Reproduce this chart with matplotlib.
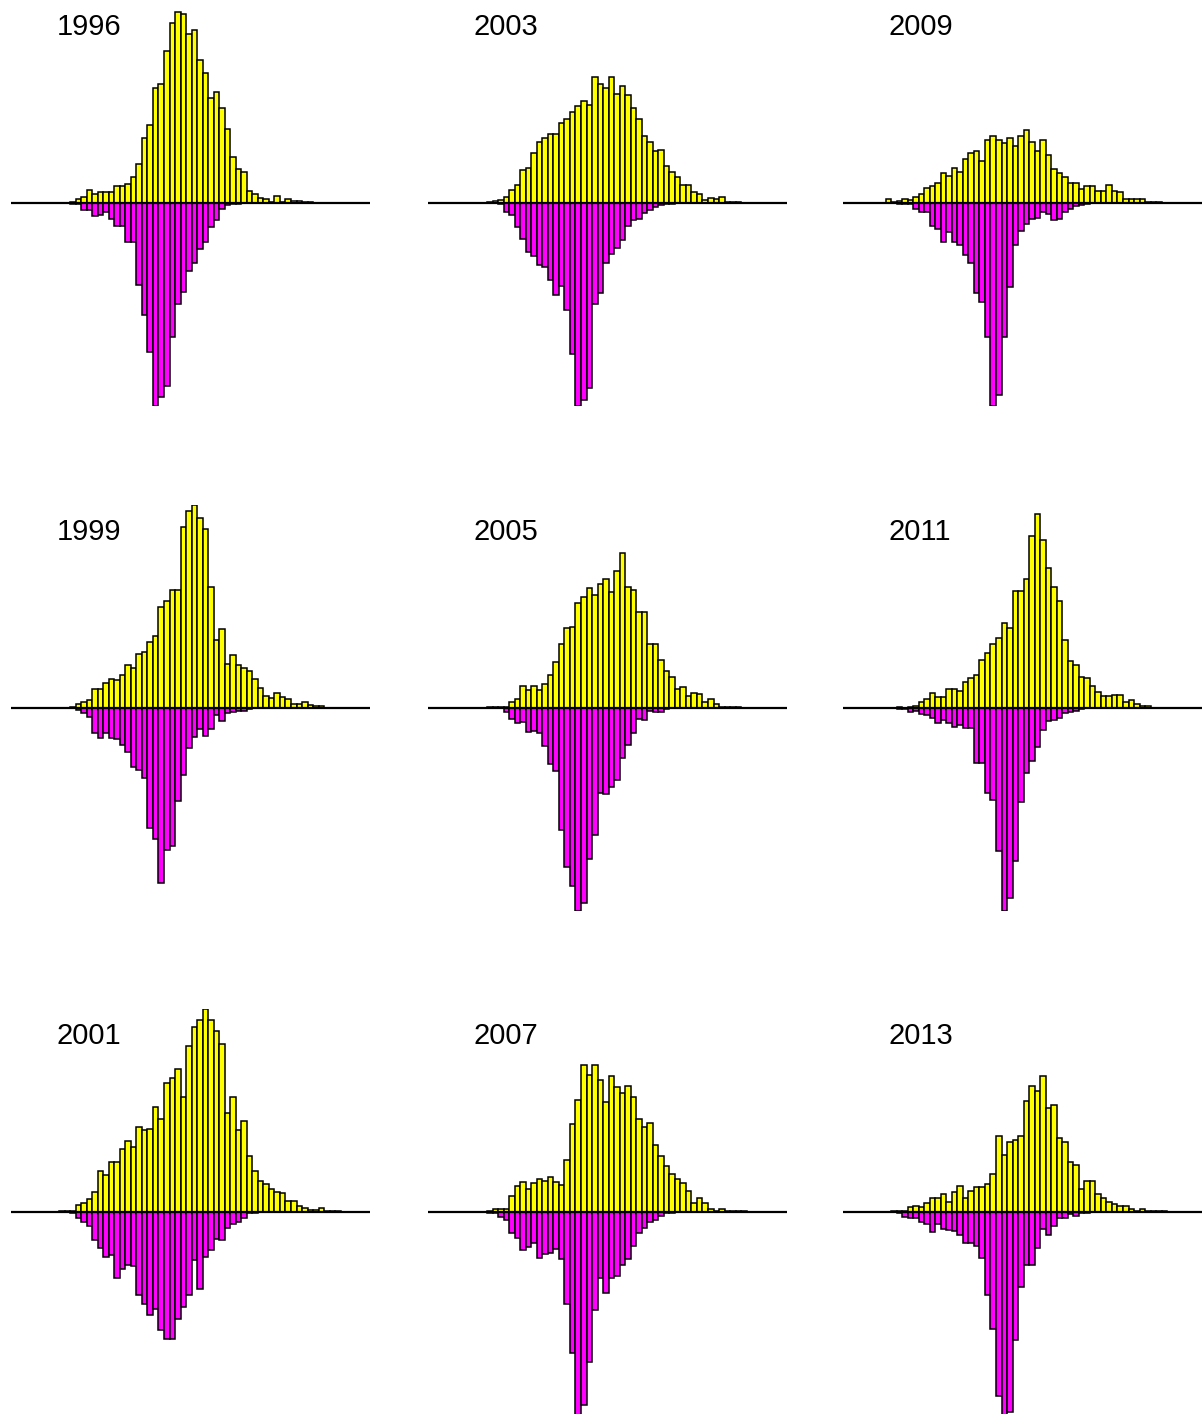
import numpy as np
import matplotlib.pyplot as plt
from matplotlib import rcParams

N_BINS = 64

# Year panels, laid out row by row
years = [1996, 2003, 2009,
         1999, 2005, 2011,
         2001, 2007, 2013]

# First bin index of each year's series
first_bin = {1996: 10, 2003: 10, 2009: 7, 1999: 10, 2005: 10,
             2011: 9, 2001: 8, 2007: 10, 2013: 8}

# Upper (yellow) and lower (magenta) counts per bin
up_1996 = [1, 4, 5.7, 12.7, 9, 11, 11, 11, 16.7, 16.7, 19, 26, 39, 65, 77.7,
           114.3, 118.3, 151.7, 179.3, 190.7, 188, 168.3, 172.3, 142.3, 130, 105,
           111, 95, 74, 46, 34.3, 31.3, 12.3, 9, 5, 4, 0.5, 7.3, 0.5, 4, 1.5, 1.5,
           1, 0.5]
down_1996 = [1, 1, 7.3, 7.3, 13.3, 11.7, 9, 15.7, 23, 23, 39, 39, 82, 111.3,
             148.3, 202.3, 193.3, 182.3, 134, 100.7, 88.3, 67.3, 59.7, 46.3, 39,
             24.3, 16.7, 5.7, 1.7, 1, 0.5]

up_2003 = [1, 1.5, 3.3, 5.7, 12.7, 18.3, 33.3, 35, 50, 60.7, 64.7, 68.3, 68.3,
           79.7, 83.3, 90.7, 96.3, 102, 98, 126, 118.3, 114.3, 126, 109, 116.7,
           107.3, 95, 83.3, 66.7, 60.7, 51.7, 53.3, 37.3, 31, 25.7, 18.3, 18.3,
           10.7, 9, 3.3, 5.3, 3.7, 5.7, 0.5, 0.5, 0.5]
down_2003 = [0, 0.3, 0.5, 9, 11.7, 24.3, 35.7, 49, 53.3, 61.7, 63.3, 76.7, 91.3,
             82.3, 106.3, 150, 202.3, 196.7, 184.3, 100.7, 89.7, 60, 50.7, 45,
             37.3, 22.7, 17.3, 15.7, 10, 7.3, 4, 2.3, 1.3, 0.5]

up_2009 = [3.7, 0.5, 1.5, 3.7, 3.3, 5.7, 9, 15, 16.7, 20, 30, 27.3, 35, 31.3,
           44.3, 50, 51.7, 42.3, 62.3, 66.7, 62.7, 59.3, 65, 56.7, 66.7, 72.3, 61,
           51.7, 62.3, 47.7, 34.3, 30, 25.7, 20, 20, 14.3, 16.7, 16.7, 12.3, 12.3,
           18.3, 11.7, 10.7, 4.3, 4.3, 4.3, 4.3, 1, 1, 1]
down_2009 = [0.3, 0.3, 0.5, 0.5, 0.5, 6, 9, 9, 22.7, 26, 39, 29.3, 39, 41.7,
             52.3, 60, 89.3, 99, 134, 202.3, 191, 134, 83.3, 41.7, 28.3, 20.7,
             15.7, 15, 9.3, 10.7, 16.7, 15.7, 9, 5.7, 3.3, 1.7, 0.5]

up_1999 = [1, 4, 5.7, 7.7, 18.7, 18.7, 24.7, 29.3, 27.7, 33.3, 43, 40.3, 54, 56,
           66.3, 72.3, 102, 107.7, 118.7, 118.7, 182.3, 198, 204, 190.7, 179.7,
           122, 68.7, 79.7, 44, 53.7, 43, 40.3, 37, 29.3, 19.7, 12.3, 9.7, 15.3,
           10.7, 9, 4, 4, 6.3, 3.3, 2, 2, 0.5, 0.5, 0.5]
down_1999 = [0.5, 2, 5.3, 9.3, 25.3, 29.7, 25.3, 29.7, 31, 37, 44.3, 59.3, 62.7,
             70.3, 121, 132, 176, 142.7, 138.7, 93, 67, 40.3, 29.3, 20.7, 28, 20.7,
             7, 12.7, 5.3, 4, 3.3, 2.7, 1.3, 0.5]

up_2005 = [1, 1, 1, 1.3, 5.7, 9, 22, 18, 22, 18, 24, 33.7, 46.3, 64.7, 80.3,
           81.3, 105.7, 111.7, 120.3, 113.7, 124.7, 129.7, 117, 137.7, 155.7, 122,
           119, 96.3, 96.3, 64.7, 64.7, 48, 37, 31.3, 18.7, 20.7, 12.3, 15.3, 13.7,
           5.7, 9.3, 3.7, 1, 1, 1, 1]
down_2005 = [0.5, 0.5, 0.5, 4.3, 11.3, 15.3, 13.7, 23.7, 22.7, 25.3, 38.7, 56,
             63, 122.7, 159.7, 178.7, 204.3, 196.3, 152, 127.7, 85.3, 87, 79.3, 72,
             50.3, 37.7, 25.3, 11, 12, 3, 3.7, 3.7, 1.3, 0.5]

up_2011 = [1, 0.5, 1.3, 2.3, 6, 9, 15.3, 10.7, 10.7, 18.7, 18.7, 16.7, 26.3,
           29.7, 33, 48, 55.7, 64.7, 70.3, 85.3, 80.3, 117.3, 117.3, 129.7, 173,
           195.3, 169, 140.7, 122, 108, 68, 47.3, 43.7, 31.3, 29.7, 22.3, 16.3,
           12.3, 12.3, 13, 13, 5.7, 8, 3.7, 2, 2, 0.5, 0.5]
down_2011 = [1, 1.3, 3.7, 3, 6.3, 7, 10.3, 14.7, 12, 14.7, 18.7, 17, 20.3, 20.3,
             55.3, 55.3, 85.3, 92.7, 144.3, 204.3, 191, 153.7, 94.7, 65.3, 53.7,
             39.3, 22, 12.7, 12, 10.3, 5.3, 4.3, 3, 1.3, 0.5]

up_2001 = [0.5, 0.5, 1, 7.3, 9.3, 12.7, 20, 40.3, 36.3, 49.3, 49.3, 62.7, 70.3,
           64.3, 84.7, 81.3, 82.7, 103.7, 92, 127.7, 133, 142, 114.3, 164.3, 183,
           190.3, 201.3, 190.3, 179.3, 166.3, 97.7, 114.3, 81, 90.3, 55.7, 40.3,
           30.3, 27.7, 23, 19.7, 18.7, 11, 11, 6.3, 3.7, 2, 2, 3.7, 0.5, 0.5, 0.5]
down_2001 = [0, 0, 0.5, 5.7, 9.7, 13.7, 27.3, 35.7, 44.7, 43, 65.7, 56.3, 52.3,
             54, 82.3, 91.3, 102.3, 96.3, 117.3, 126.3, 125.7, 106.3, 94.7, 82, 48,
             76.3, 44.7, 37.3, 26.3, 28, 15.7, 12, 9.7, 6.3, 1.3, 0.5]

up_2007 = [1, 3, 3, 3, 16, 25.3, 29.3, 23, 28.7, 32.7, 31, 34.7, 29.3, 27, 51.3,
           87, 111, 146, 136.3, 146, 131.3, 109.3, 134.7, 123.7, 117.7, 125.3,
           114.3, 92, 84.3, 88, 66.3, 55.3, 46, 38, 32.7, 28.7, 21, 9.3, 14.3, 8.7,
           2.7, 1.3, 3, 0.5, 0.5, 0.5, 0.5]
down_2007 = [0.5, 1, 4.7, 8, 20.7, 25.3, 37.3, 34.7, 30.3, 45.3, 41.3, 40.3,
             36.3, 47, 91.7, 139.7, 201.3, 191.3, 148.7, 97, 65.3, 80.3, 65.3,
             63.7, 53, 46.3, 34, 20.7, 16.3, 9.7, 8, 3.7, 1.3, 0.5]

up_2013 = [0.5, 0.5, 1.3, 4.7, 6.3, 4.7, 8.7, 14.3, 14.3, 18, 10.3, 19.7, 25.3,
           14.3, 21.3, 24.7, 24.7, 27.7, 38, 75.3, 57, 69.7, 71.3, 75.3, 110.3,
           125.3, 120.3, 134.7, 103, 106.3, 73, 69.3, 49.3, 47, 23, 30.3, 30.3,
           17.7, 13.7, 10.3, 8, 6.3, 6.3, 3, 1.3, 2.7, 1.3, 0.5, 0.5, 0.5]
down_2013 = [0.3, 0.5, 4.7, 6.3, 6.3, 10.3, 12, 19.7, 12, 17.3, 18, 19, 23, 30.3,
             30.3, 34, 45.3, 82.3, 115.7, 182.3, 201.3, 198, 127, 74.7, 52.3, 52.3,
             35.7, 17.3, 23, 13.7, 6.3, 6.3, 2, 4, 1.3, 0.5]

upper = {1996: up_1996, 2003: up_2003, 2009: up_2009, 1999: up_1999,
         2005: up_2005, 2011: up_2011, 2001: up_2001, 2007: up_2007,
         2013: up_2013}
lower = {1996: down_1996, 2003: down_2003, 2009: down_2009, 1999: down_1999,
         2005: down_2005, 2011: down_2011, 2001: down_2001, 2007: down_2007,
         2013: down_2013}


def full_series(values, start):
    """Spread a series over all bins, zero outside it."""
    out = np.zeros(N_BINS)
    out[start:start + len(values)] = values
    return out


def plot_panels():
    rcParams['font.family'] = ['Liberation Sans', 'DejaVu Sans']

    W, H = 1202, 1414
    fig = plt.figure(figsize=(W / 100, H / 100), dpi=100)

    col_left = [11, 428, 843]
    row_top = [0, 505, 1009]
    ax_w, ax_h = 359, 406

    bins = np.arange(N_BINS)
    for idx, year in enumerate(years):
        r, c = divmod(idx, 3)
        ax = fig.add_axes([col_left[c] / W, 1 - (row_top[r] + ax_h) / H,
                           ax_w / W, ax_h / H])
        up = full_series(upper[year], first_bin[year])
        down = full_series(lower[year], first_bin[year])

        ax.bar(bins, up, width=1, color='#ffff00', edgecolor='black', linewidth=1.1)
        ax.bar(bins, -down, width=1, color='#ff00ff', edgecolor='black', linewidth=1.1)
        ax.axhline(0, color='black', linewidth=1.6, zorder=3)

        top = max(up.max(), down.max())
        ax.set_ylim(-top, top)
        ax.set_xlim(-1.2, N_BINS - 0.2)
        ax.axis('off')

        ax.text(0.127, 0.914, str(year), transform=ax.transAxes,
                fontsize=21, ha='left', va='baseline')

    fig.savefig('out.png', dpi=100)


plot_panels()
